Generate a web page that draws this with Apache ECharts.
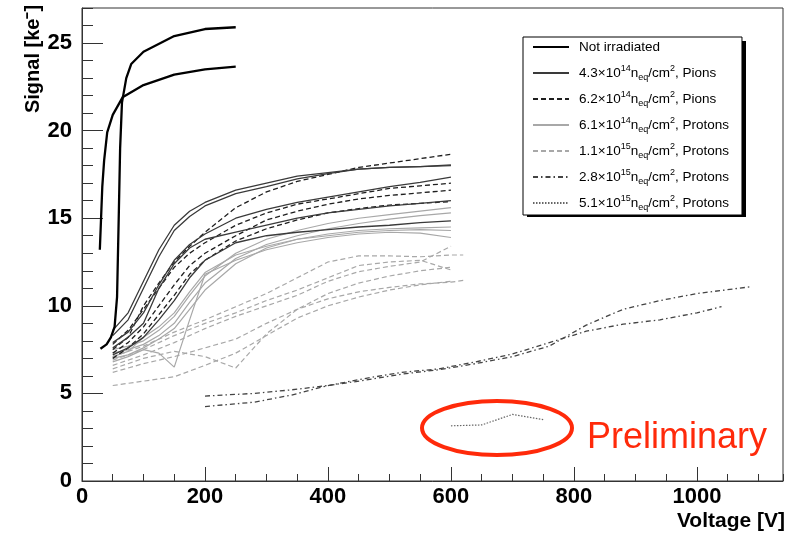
<!DOCTYPE html>
<html>
<head>
<meta charset="utf-8">
<script src="https://cdn.jsdelivr.net/npm/echarts@6/dist/echarts.min.js"></script>
<style>
html, body { margin: 0; padding: 0; background: #fff; }
#chart { width: 793px; height: 535px; }
</style>
</head>
<body>
<div id="chart"></div>
<script>
// not irradiated
var niV1 = [29, 31, 33, 36, 41, 50, 66, 100, 150, 200, 250];
var niS1 = [13.2, 15.0, 16.8, 18.3, 19.9, 20.9, 21.9, 22.6, 23.2, 23.5, 23.65];
var niV2 = [30, 40, 47, 53, 57, 60, 62, 65, 72, 80, 100, 150, 200, 250];
var niS2 = [7.55, 7.8, 8.2, 8.8, 10.5, 15.5, 19.0, 21.6, 23.0, 23.8, 24.5, 25.4, 25.8, 25.9];

// pions + 6.1e14 protons share one voltage scan
var vMid = [50, 75, 100, 125, 150, 175, 200, 250, 300, 350, 400, 450, 500, 550, 600];
var pi43a = [8.3, 9.2, 11.0, 12.8, 14.3, 15.1, 15.7, 16.4, 16.8, 17.25, 17.55, 17.8, 17.9, 17.95, 18.05];
var pi43b = [8.6, 9.6, 11.4, 13.2, 14.6, 15.4, 15.9, 16.6, 17.0, 17.4, 17.6, 17.8, 17.9, 17.95, 18.0];
var pi43c = [7.9, 8.5, 9.6, 11.2, 12.6, 13.5, 14.1, 15.0, 15.5, 15.9, 16.2, 16.5, 16.8, 17.05, 17.35];
var pi43d = [7.6, 8.2, 9.0, 11.0, 12.4, 13.3, 13.8, 14.2, 14.6, 15.0, 15.3, 15.5, 15.7, 15.85, 16.0];
var pi43e = [7.2, 7.6, 8.2, 9.2, 10.3, 11.6, 12.6, 13.6, 14.0, 14.2, 14.35, 14.5, 14.6, 14.75, 14.85];

var pi62a = [7.5, 8.2, 10.0, 11.3, 12.5, 13.4, 14.2, 15.6, 16.5, 17.1, 17.5, 17.9, 18.15, 18.4, 18.65];
var pi62b = [7.8, 8.6, 9.8, 11.0, 12.2, 13.0, 13.6, 14.6, 15.3, 15.8, 16.1, 16.4, 16.7, 16.85, 17.0];
var pi62c = [7.3, 7.9, 8.8, 10.0, 11.2, 12.3, 13.0, 14.0, 14.9, 15.4, 15.8, 16.1, 16.3, 16.45, 16.6];
var pi62d = [7.0, 7.6, 8.4, 9.5, 10.6, 11.8, 12.6, 13.7, 14.4, 14.9, 15.3, 15.55, 15.75, 15.85, 15.95];

var pr61a = [7.5, 7.7, 8.0, 8.6, 9.4, 10.6, 11.7, 13.0, 13.8, 14.3, 14.7, 15.0, 15.2, 15.4, 15.6];
var pr61b = [7.3, 7.5, 7.8, 8.3, 9.0, 10.2, 11.3, 12.7, 13.5, 14.0, 14.4, 14.7, 14.95, 15.15, 15.3];
var pr61c = [7.0, 7.2, 7.6, 8.1, 8.7, 9.8, 10.9, 12.4, 13.3, 13.8, 14.1, 14.3, 14.4, 14.45, 14.5];
var pr61d = [6.8, 7.1, 7.5, 7.3, 6.5, 9.2, 11.8, 12.6, 13.2, 13.6, 13.9, 14.1, 14.2, 14.15, 13.9];
var pr61e = [7.1, 7.4, 8.2, 8.8, 9.6, 10.8, 11.9, 12.9, 13.4, 13.8, 14.0, 14.2, 14.3, 14.35, 14.3];

// 1.1e15 protons
var vGray = [50, 100, 150, 200, 250, 300, 350, 400, 450, 500, 550, 600, 620];
var pr11a = [7.1, 7.7, 8.5, 9.2, 9.95, 10.7, 11.6, 12.5, 12.85, 12.85, 12.8, 12.9, 12.9];
var pr11b = [6.6, 7.2, 7.9, 8.7, 9.4, 10.0, 10.6, 11.4, 11.95, 12.25, 12.5, 13.4, null];
var pr11c = [6.9, 7.5, 8.3, 9.0, 9.6, 10.3, 10.9, 11.6, 12.3, 12.5, 12.6, 12.05, null];
var pr11d = [6.2, 6.7, 7.1, 7.6, 8.1, 9.0, 9.8, 10.4, 10.8, 11.05, 11.25, 11.35, 11.45];
var pr11e = [6.4, 7.0, 7.4, 7.1, 6.45, 8.4, 9.8, 10.7, 11.3, 11.7, 12.0, 12.2, null];
var pr11f = [5.45, 5.7, 5.95, 6.6, 7.3, 8.3, 9.3, 10.0, 10.5, 10.9, 11.2, 11.4, null];

// 2.8e15 protons
var vHiA = [200, 280, 340, 400, 460, 520, 580, 640, 700, 760, 820, 880, 940, 1000, 1090];
var pr28a = [4.85, 5.0, 5.2, 5.45, 5.75, 6.1, 6.35, 6.7, 7.1, 7.7, 8.9, 9.8, 10.3, 10.7, 11.1];
var vHiB = [200, 280, 340, 400, 460, 520, 580, 640, 700, 760, 820, 880, 940, 1000, 1040];
var pr28b = [4.25, 4.5, 4.9, 5.45, 5.85, 6.2, 6.4, 6.8, 7.25, 7.9, 8.55, 8.95, 9.2, 9.6, 9.95];

// 5.1e15 protons
var v51 = [600, 650, 700, 750];
var pr51 = [3.15, 3.2, 3.8, 3.5];

var legendNames = ['Not irradiated', '4.3e14 Pions', '6.2e14 Pions', '6.1e14 Protons',
  '1.1e15 Protons', '2.8e15 Protons', '5.1e15 Protons'];
var legendLabels = [
  'Not irradiated',
  '4.3\u00d710{sup|14}n{sub|eq}/cm{sup|2}, Pions',
  '6.2\u00d710{sup|14}n{sub|eq}/cm{sup|2}, Pions',
  '6.1\u00d710{sup|14}n{sub|eq}/cm{sup|2}, Protons',
  '1.1\u00d710{sup|15}n{sub|eq}/cm{sup|2}, Protons',
  '2.8\u00d710{sup|15}n{sub|eq}/cm{sup|2}, Protons',
  '5.1\u00d710{sup|15}n{sub|eq}/cm{sup|2}, Protons'
];

var FONT = '"Liberation Sans", Arial, Helvetica, sans-serif';

var styles = {
  'Not irradiated': { color: '#000', width: 2.3, type: 'solid' },
  '4.3e14 Pions': { color: '#3a3a3a', width: 1.3, type: 'solid' },
  '6.2e14 Pions': { color: '#1e1e1e', width: 1.3, type: [5, 3] },
  '6.1e14 Protons': { color: '#a8a8a8', width: 1.2, type: 'solid' },
  '1.1e15 Protons': { color: '#a8a8a8', width: 1.2, type: [5, 3] },
  '2.8e15 Protons': { color: '#444', width: 1.3, type: [5, 3, 1.5, 3] },
  '5.1e15 Protons': { color: '#666', width: 1.2, type: [1.5, 1.5] }
};

function pairs(v, s) {
  var out = [];
  for (var i = 0; i < v.length; i++) {
    if (s[i] != null) out.push([v[i], s[i]]);
  }
  return out;
}

function line(name, v, s, z) {
  var st = styles[name];
  return {
    name: name,
    type: 'line',
    data: pairs(v, s),
    symbol: 'none',
    showSymbol: false,
    silent: true,
    z: z,
    lineStyle: { color: st.color, width: st.width, type: st.type },
    itemStyle: { color: st.color }
  };
}

var series = [
  line('Not irradiated', niV1, niS1, 9),
  line('4.3e14 Pions', vMid, pi43a, 7),
  line('6.2e14 Pions', vMid, pi62a, 6),
  line('6.1e14 Protons', vMid, pr61a, 4),
  line('1.1e15 Protons', vGray, pr11a, 3),
  line('2.8e15 Protons', vHiA, pr28a, 5),
  line('5.1e15 Protons', v51, pr51, 5),
  line('Not irradiated', niV2, niS2, 9),
  line('4.3e14 Pions', vMid, pi43b, 7),
  line('4.3e14 Pions', vMid, pi43c, 7),
  line('4.3e14 Pions', vMid, pi43d, 7),
  line('4.3e14 Pions', vMid, pi43e, 7),
  line('6.2e14 Pions', vMid, pi62b, 6),
  line('6.2e14 Pions', vMid, pi62c, 6),
  line('6.2e14 Pions', vMid, pi62d, 6),
  line('6.1e14 Protons', vMid, pr61b, 4),
  line('6.1e14 Protons', vMid, pr61c, 4),
  line('6.1e14 Protons', vMid, pr61d, 4),
  line('6.1e14 Protons', vMid, pr61e, 4),
  line('1.1e15 Protons', vGray, pr11b, 3),
  line('1.1e15 Protons', vGray, pr11c, 3),
  line('1.1e15 Protons', vGray, pr11d, 3),
  line('1.1e15 Protons', vGray, pr11e, 3),
  line('1.1e15 Protons', vGray, pr11f, 3),
  line('2.8e15 Protons', vHiB, pr28b, 5)
];

var axisColor = '#333';
var tickLabel = {
  color: '#000', fontFamily: FONT, fontSize: 22, fontWeight: 'bold',
  formatter: function (v) { return String(v); }
};

var chart = echarts.init(document.getElementById('chart'), null, { renderer: 'canvas' });
chart.setOption({
  animation: false,
  backgroundColor: '#fff',
  grid: { left: 82, right: 10, top: 8, bottom: 54, show: true, borderColor: axisColor, borderWidth: 1 },
  xAxis: [
    {
      type: 'value', min: 0, max: 1140, interval: 200,
      axisLine: { show: true, lineStyle: { color: axisColor } },
      axisTick: { inside: true, length: 14, lineStyle: { color: axisColor } },
      axisLabel: Object.assign({ margin: 5, showMaxLabel: false }, tickLabel),
      splitLine: { show: false }
    },
    {
      type: 'value', min: 0, max: 1140, interval: 50, position: 'bottom',
      axisLine: { show: false },
      axisTick: { inside: true, length: 7, lineStyle: { color: axisColor } },
      axisLabel: { show: false },
      splitLine: { show: false }
    }
  ],
  yAxis: [
    {
      type: 'value', min: 0, max: 27, interval: 5,
      axisLine: { show: true, lineStyle: { color: axisColor } },
      axisTick: { inside: true, length: 21, lineStyle: { color: axisColor } },
      axisLabel: Object.assign({ margin: 10, showMaxLabel: false }, tickLabel),
      splitLine: { show: false }
    },
    {
      type: 'value', min: 0, max: 27, interval: 1, position: 'left',
      axisLine: { show: false },
      axisTick: { inside: true, length: 11, lineStyle: { color: axisColor } },
      axisLabel: { show: false },
      splitLine: { show: false }
    }
  ],
  legend: {
    orient: 'vertical',
    left: 523,
    top: 37,
    z: 20,
    data: legendNames,
    selectedMode: false,
    itemWidth: 36,
    itemHeight: 14,
    itemGap: 8,
    padding: [1, 13, 3, 9],
    backgroundColor: '#fff',
    borderColor: '#000',
    borderWidth: 1,
    itemStyle: { opacity: 0 },
    formatter: function (n) { return legendLabels[legendNames.indexOf(n)]; },
    textStyle: {
      fontFamily: FONT, fontSize: 13.5, color: '#000', lineHeight: 18, padding: [0, 0, 0, 5],
      rich: {
        sup: { fontFamily: FONT, fontSize: 9, lineHeight: 10, verticalAlign: 'top', color: '#000' },
        sub: { fontFamily: FONT, fontSize: 9, lineHeight: 10, verticalAlign: 'bottom', color: '#000' }
      }
    }
  },
  graphic: [
    {
      // legend drop shadow
      type: 'rect', z: 19, shape: { x: 527, y: 41, width: 219, height: 176 },
      style: { fill: '#000' }
    },
    {
      type: 'text', x: 33, y: 59, rotation: Math.PI / 2,
      style: { text: 'Signal [ke\u207b]', font: 'bold 20px ' + FONT, fill: '#000', textAlign: 'center', textVerticalAlign: 'middle' }
    },
    {
      type: 'text', x: 785, y: 521,
      style: { text: 'Voltage [V]', font: 'bold 21px ' + FONT, fill: '#000', textAlign: 'right', textVerticalAlign: 'middle' }
    },
    {
      type: 'ellipse', shape: { cx: 497, cy: 428, rx: 75, ry: 27 },
      style: { fill: 'none', stroke: '#ff2a0a', lineWidth: 4 }, z: 100
    },
    {
      type: 'text', x: 587, y: 438,
      style: { text: 'Preliminary', font: '36px ' + FONT, fill: '#ff2a0a', textAlign: 'left', textVerticalAlign: 'middle' }, z: 100
    }
  ],
  series: series
});
</script>
</body>
</html>
